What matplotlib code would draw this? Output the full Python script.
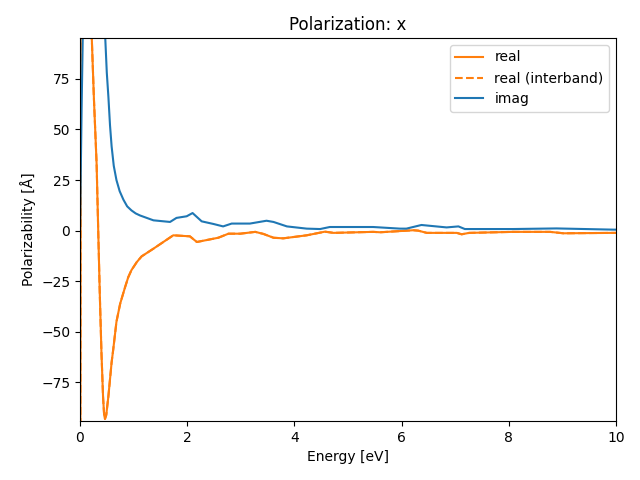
import matplotlib
matplotlib.use("Agg")
import matplotlib.pyplot as plt

# values
energy_real = [0.0, 0.02, 0.1, 0.2, 0.22, 0.26, 0.31, 0.34, 0.37, 0.40, 0.43, 0.45, 0.466,
               0.49, 0.53, 0.59, 0.62, 0.68, 0.75, 0.84, 0.90, 0.96, 1.06, 1.15, 1.37, 1.74,
               2.05, 2.18, 2.58, 2.77, 2.99, 3.27, 3.42, 3.61, 3.79, 4.23, 4.57, 4.73,
               5.47, 5.6, 6.22, 6.31, 6.47, 7.03, 7.12, 7.26, 8.08, 8.77, 9.02, 9.95, 10.0]
real = [-300, 300, 400, 130, 95, 65, 33, 0, -32, -60, -82, -91, -93,
        -91, -81.7, -65, -58.7, -45, -36, -28, -23, -19.5, -15.5, -12.7, -8.9, -2.3,
        -2.8, -5.6, -3.5, -1.5, -1.5, -0.6, -1.6, -3.5, -3.8, -2.3, -0.5, -1.1,
        -0.6, -0.8, 0.2, 0.0, -1.1, -1.1, -1.8, -1.1, -0.6, -0.6, -1.3, -1.1, -1.1]
real_interband = real

energy_imag = [0.0, 0.03, 0.06, 0.2, 0.4, 0.47, 0.50, 0.53, 0.56, 0.59, 0.63, 0.68, 0.74,
               0.81, 0.88, 0.96, 1.04, 1.12, 1.37, 1.68, 1.80, 1.99, 2.10, 2.27, 2.49, 2.67,
               2.83, 3.17, 3.48, 3.61, 3.86, 4.23, 4.48, 4.66, 5.47, 5.97, 6.09, 6.37,
               6.84, 7.06, 7.18, 8.08, 8.89, 9.95, 10.0]
imag = [0.0, 60, 110, 300, 150, 95.8, 78, 66, 52, 41.6, 32, 25, 19.5,
        15.3, 12, 10, 8.5, 7.5, 5.1, 4.3, 6.3, 7.1, 8.7, 4.6, 3.3, 2.1,
        3.5, 3.5, 4.9, 4.3, 2.1, 1.0, 0.8, 1.8, 1.8, 1.0, 1.0, 2.8,
        1.6, 2.1, 0.8, 0.8, 1.1, 0.5, 0.5]

fig = plt.figure(figsize=(6.4, 4.8), dpi=100)
plt.plot(energy_real, real, color='C1', label='real')
plt.plot(energy_real, real_interband, '--', color='C1', label='real (interband)')
plt.plot(energy_imag, imag, color='C0', label='imag')
plt.xlim(0, 10)
plt.ylim(-94, 95.2)
plt.xlabel('Energy [eV]')
plt.ylabel('Polarizability [Å]')
plt.title('Polarization: x')
plt.legend()
plt.subplots_adjust(left=0.125, right=0.9625, top=0.921, bottom=0.123)
plt.savefig('out.png', dpi=100)
